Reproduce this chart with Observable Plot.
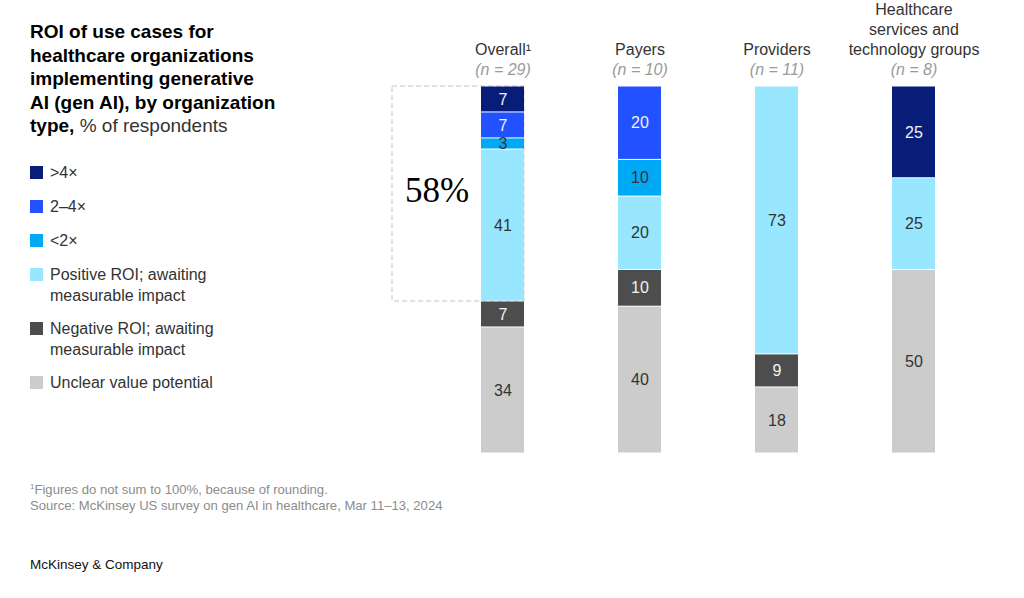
<!DOCTYPE html>
<html>
<head>
<meta charset="utf-8">
<script src="https://cdn.jsdelivr.net/npm/d3@7"></script>
<script src="https://cdn.jsdelivr.net/npm/@observablehq/plot@0.6"></script>
<style>
  html, body { margin: 0; padding: 0; background: #fff; }
  #wrap { position: relative; width: 1024px; height: 598px; overflow: hidden;
          font-family: "Liberation Sans", Arial, sans-serif; color: #333; }
  #title { position: absolute; left: 30px; top: 20px; font-size: 19px; line-height: 23.5px;
           color: #000; white-space: nowrap; }
  #title b { font-weight: 700; }
  #title span { color: #333; font-weight: 400; }
  #legend { position: absolute; left: 30px; top: 1px; }
  .li { position: absolute; left: 0; white-space: nowrap; font-size: 16px; line-height: 21px; color: #333; }
  .sw { position: absolute; left: 0; top: 4px; width: 13px; height: 13px; }
  .lt { position: absolute; left: 20px; top: 0; }
  #chart { position: absolute; left: 380px; top: 0; }
  #notes { position: absolute; left: 30px; top: 482px; font-size: 13.1px; line-height: 16px; color: #8c8c8c; white-space: nowrap; }
  #notes sup { font-size: 8px; vertical-align: 5px; line-height: 0; }
  #brand { position: absolute; left: 30px; top: 557px; font-size: 13.5px; color: #111; white-space: nowrap; }
</style>
</head>
<body>
<div id="wrap">
  <div id="title"><b>ROI of use cases for<br>healthcare organizations<br>implementing generative<br>AI (gen AI), by organization<br>type,</b> <span>% of respondents</span></div>
  <div id="legend"></div>
  <div id="chart"></div>
  <div id="notes"><sup>1</sup>Figures do not sum to 100%, because of rounding.<br>Source: McKinsey US survey on gen AI in healthcare, Mar 11–13, 2024</div>
  <div id="brand">McKinsey &amp; Company</div>
</div>
<script>
// ---- data ----
const categories = ["Overall", "Payers", "Providers", "Healthcare services and technology groups"];
const headerLabels = ["Overall¹", "Payers", "Providers", "Healthcare\nservices and\ntechnology groups"];
const sampleSizes = [29, 10, 11, 8];
const series = [">4×", "2–4×", "<2×", "Positive ROI; awaiting measurable impact", "Negative ROI; awaiting measurable impact", "Unclear value potential"];
const legendLabels = [">4×", "2–4×", "<2×", "Positive ROI; awaiting\nmeasurable impact", "Negative ROI; awaiting\nmeasurable impact", "Unclear value potential"];
const seriesColors = ["#081d78", "#2251ff", "#00a9f4", "#99e6ff", "#4d4d4d", "#cccccc"];
const darkSeries = [">4×", "2–4×", "Negative ROI; awaiting measurable impact"];
const positiveSeries = [">4×", "2–4×", "<2×", "Positive ROI; awaiting measurable impact"];
const overallValues   = [7, 7, 3, 41, 7, 34];
const payersValues    = [0, 20, 10, 20, 10, 40];
const providersValues = [0, 0, 0, 73, 9, 18];
const hcsTechValues   = [25, 0, 0, 25, 0, 50];

const valuesByCategory = [overallValues, payersValues, providersValues, hcsTechValues];
const table = [];
categories.forEach((c, ci) => series.forEach((s, si) => {
  const v = valuesByCategory[ci][si];
  if (v > 0) table.push({category: c, series: s, value: v});
}));

// ---- legend (HTML) ----
const legendTops = [161, 195, 229, 263, 317, 371];
const legend = document.getElementById("legend");
series.forEach((s, i) => {
  const item = document.createElement("div");
  item.className = "li";
  item.style.top = legendTops[i] + "px";
  const sw = document.createElement("div");
  sw.className = "sw";
  sw.style.background = seriesColors[i];
  const lt = document.createElement("div");
  lt.className = "lt";
  lt.innerHTML = legendLabels[i].replace("\n", "<br>");
  item.appendChild(sw); item.appendChild(lt);
  legend.appendChild(item);
});

// ---- chart ----
const stackOrder = series.slice().reverse(); // bottom to top
const stackOpts = {order: stackOrder, offset: "normalize"};
const overallTotal = d3.sum(overallValues);
const positiveSum = d3.sum(series.map((s, i) => positiveSeries.includes(s) ? overallValues[i] : 0));
const positiveShare = positiveSum / overallTotal;
const bracket = [{category: categories[0], y1: 1 - positiveShare, y2: 1, mid: 1 - positiveShare / 2, label: positiveSum + "%"}];
const headers = categories.map((c, i) => ({category: c, label: headerLabels[i], n: `(n = ${sampleSizes[i]})`}));

const chart = Plot.plot({
  width: 620,
  height: 470,
  marginLeft: 99,
  marginRight: 64,
  marginTop: 86,
  marginBottom: 17,
  style: {fontFamily: "'Liberation Sans', Arial, sans-serif", fontSize: "16px", background: "transparent", overflow: "visible"},
  x: {domain: categories, paddingInner: 0.688, paddingOuter: 0, axis: null},
  y: {domain: [0, 1], axis: null},
  color: {domain: series, range: seriesColors},
  marks: [
    Plot.rect(bracket, {x: "category", y1: "y1", y2: "y2", insetLeft: -89, fill: "none",
      stroke: "#c4c4c4", strokeWidth: 1, strokeDasharray: "5,3"}),
    Plot.text(bracket, {x: "category", y: "mid", text: "label", dx: -66, dy: -3,
      fontFamily: "'Liberation Serif', 'Times New Roman', serif", fontSize: 35, fill: "#000"}),
    Plot.rectY(table, Plot.stackY(stackOpts, {x: "category", y: "value", z: "series", fill: "series",
      insetTop: 0.5, insetBottom: 0.5})),
    Plot.text(table, Plot.stackY(stackOpts, {
      x: "category", y: "value", z: "series",
      text: d => darkSeries.includes(d.series) ? String(d.value) : null, fill: "#f2f2f2", fontSize: 16})),
    Plot.text(table, Plot.stackY(stackOpts, {
      x: "category", y: "value", z: "series",
      text: d => darkSeries.includes(d.series) ? null : String(d.value), fill: "#333", fontSize: 16})),
    Plot.text(headers, {x: "category", frameAnchor: "top", text: "label", lineAnchor: "bottom",
      lineHeight: 1.25, dy: -32, fill: "#333", fontSize: 16}),
    Plot.text(headers, {x: "category", frameAnchor: "top", text: "n", dy: -23,
      fill: "#9a9a9a", fontSize: 16, fontStyle: "italic"})
  ]
});
document.getElementById("chart").appendChild(chart);
</script>
</body>
</html>
